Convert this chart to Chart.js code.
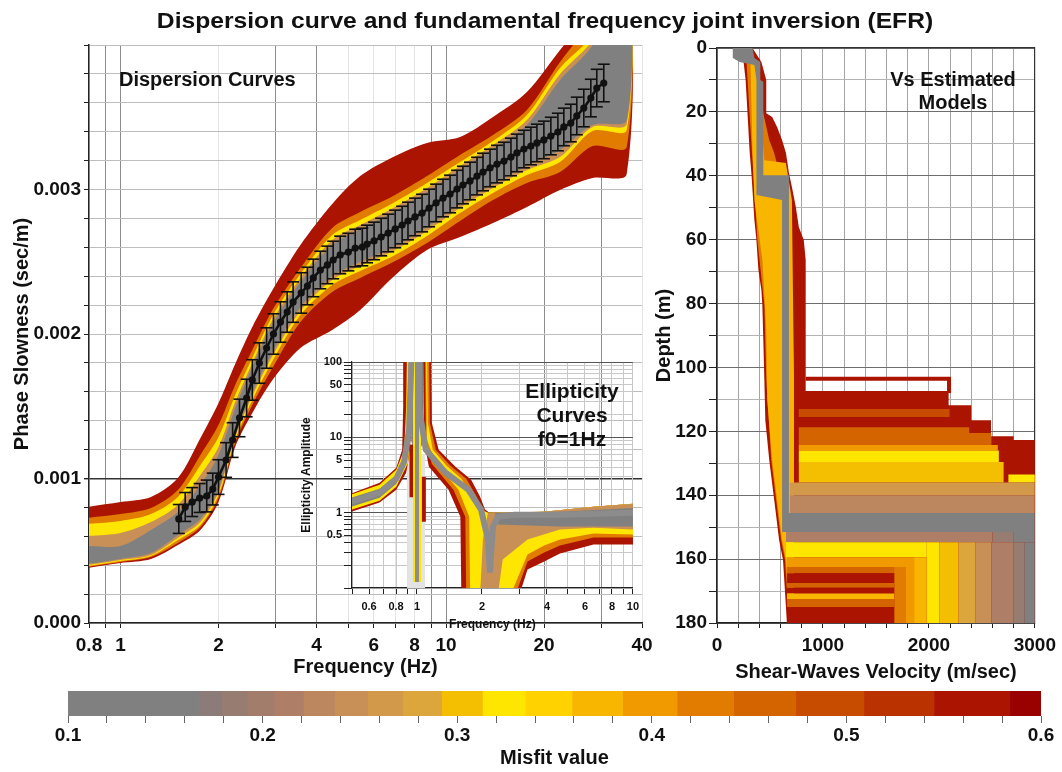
<!DOCTYPE html>
<html>
<head>
<meta charset="utf-8">
<title>Dispersion curve and fundamental frequency joint inversion (EFR)</title>
<script src="https://cdn.jsdelivr.net/npm/chart.js@4.4.1/dist/chart.umd.min.js"></script>
<style>
  html, body { margin:0; padding:0; background:#ffffff; }
  body { position:relative; width:1062px; height:772px; overflow:hidden; font-family:"Liberation Sans", Arial, Helvetica, sans-serif; }
  canvas { position:absolute; }
  .lbl { position:absolute; font-weight:bold; color:#111; white-space:nowrap; z-index:5; }
</style>
</head>
<body>
<canvas id="cMain" width="660" height="690" style="left:0px;top:0px;z-index:1"></canvas>
<canvas id="cVs" width="422" height="690" style="left:640px;top:0px;z-index:1"></canvas>
<canvas id="cEll" width="350" height="285" style="left:295px;top:350px;z-index:2"></canvas>
<canvas id="cBar" width="1022" height="92" style="left:40px;top:680px;z-index:1"></canvas>
<div class="lbl" style="left:145px;top:10px;width:800px;text-align:center;font-size:22px;line-height:22px;transform:scaleX(1.12);">Dispersion curve and fundamental frequency joint inversion (EFR)</div>
<div class="lbl" style="left:119px;top:69px;font-size:20px;line-height:20px;">Dispersion Curves</div>
<div class="lbl" style="left:853px;top:68px;width:200px;text-align:center;font-size:20px;line-height:23px;">Vs Estimated<br>Models</div>
<div class="lbl" style="left:472px;top:379px;width:200px;text-align:center;font-size:21px;line-height:24px;">Ellipticity<br>Curves<br>f0=1Hz</div>
<script>
// ================= DATA =================
// Misfit colour scale (colour bar)
const misfitEdges  = [0.100,0.167,0.179,0.192,0.206,0.221,0.237,0.254,0.272,0.292,0.313,0.335,0.359,0.385,0.413,0.442,0.474,0.509,0.545,0.584,0.600];
const misfitColors = ['#808080','#8b7c79','#977c72','#a27d6c','#ae7e66','#bc865f','#c88f56','#d3994b','#dca63c','#f4bf00','#ffe600','#ffd200','#f8b600','#f09a00','#e27c00','#d36400','#c84c00','#b93200','#aa1400','#990000'];
const misfitTicks  = [0.10,0.12,0.14,0.16,0.18,0.20,0.22,0.24,0.26,0.28,0.30,0.32,0.34,0.36,0.38,0.40,0.42,0.44,0.46,0.48,0.50,0.52,0.54,0.56,0.58,0.60];
const misfitTickLabels = ['0.1','','','','','0.2','','','','','0.3','','','','','0.4','','','','','0.5','','','','','0.6'];

// Observed dispersion curve (frequency Hz, slowness in ms/m = 1e-3 s/m)
const freqObs = [1.51,1.58,1.66,1.75,1.84,1.92,2.00,2.11,2.21,2.32,2.44,2.54,2.67,2.81,2.95,3.10,3.25,3.39,3.59,3.75,3.91,4.11,4.32,4.50,4.73,5.01,5.26,5.53,5.72,6.01,6.32,6.64,6.98,7.33,7.64,8.03,8.44,8.87,9.32,9.79,10.29,10.81,11.27,11.85,12.45,12.99,13.65,14.34,15.07,15.83,16.51,17.35,18.23,19.02,19.98,20.99,22.06,23.01,24.17,25.22,26.50,27.85,29.05,30.52];
const slowObs = [0.720,0.803,0.837,0.865,0.879,0.927,1.010,1.128,1.266,1.419,1.557,1.682,1.799,1.903,2.000,2.083,2.152,2.221,2.284,2.332,2.388,2.443,2.478,2.512,2.547,2.567,2.595,2.602,2.623,2.644,2.671,2.699,2.727,2.754,2.782,2.810,2.837,2.872,2.907,2.941,2.969,3.003,3.031,3.059,3.093,3.121,3.149,3.176,3.197,3.225,3.253,3.280,3.301,3.322,3.343,3.370,3.398,3.433,3.460,3.509,3.564,3.633,3.702,3.737];
const slowErr = [0.10,0.10,0.10,0.10,0.11,0.11,0.12,0.12,0.12,0.13,0.13,0.14,0.14,0.14,0.14,0.14,0.14,0.14,0.14,0.13,0.13,0.13,0.13,0.13,0.13,0.13,0.13,0.13,0.13,0.13,0.13,0.13,0.13,0.13,0.13,0.13,0.13,0.13,0.13,0.13,0.13,0.13,0.13,0.13,0.13,0.13,0.13,0.13,0.13,0.13,0.13,0.13,0.13,0.13,0.13,0.13,0.13,0.13,0.13,0.13,0.13,0.13,0.13,0.13];

// Envelopes of the computed dispersion curves, per misfit class (ms/m)
const dispFreq = [0.79,1.0,1.24,1.5,1.76,2.0,2.25,2.54,2.93,3.57,4.47,5.45,6.88,8.74,11.04,13.94,17.72,22.4,28.2,35.9];
const dispDRUp  = [0.803,0.837,0.872,1.003,1.280,1.522,1.792,2.048,2.304,2.616,2.900,3.093,3.225,3.322,3.363,3.502,3.675,3.965,4.242,4.519];
const dispDRLo  = [0.381,0.415,0.443,0.540,0.644,0.837,1.218,1.453,1.682,1.903,2.028,2.166,2.394,2.581,2.671,2.768,2.879,2.997,3.080,3.107];
const dispORUp  = [0.727,0.754,0.796,0.920,1.163,1.370,1.647,1.889,2.166,2.457,2.734,2.844,2.955,3.093,3.239,3.377,3.550,3.882,4.173,4.519];
const dispORLo  = [0.388,0.422,0.457,0.554,0.664,0.865,1.246,1.509,1.765,2.083,2.291,2.388,2.498,2.630,2.782,2.927,3.045,3.121,3.301,3.294];
const dispYEUp  = [0.685,0.706,0.754,0.872,1.093,1.287,1.578,1.834,2.125,2.415,2.685,2.789,2.907,3.045,3.190,3.336,3.516,3.841,4.069,4.519];
const dispYELo  = [0.394,0.429,0.464,0.574,0.678,0.886,1.266,1.543,1.813,2.131,2.339,2.436,2.540,2.678,2.837,2.976,3.100,3.190,3.405,3.412];
const dispTNUp  = [0.602,0.623,0.699,0.817,1.024,1.218,1.529,1.799,2.097,2.388,2.651,2.754,2.872,3.010,3.163,3.308,3.481,3.799,4.035,4.519];
const dispTNLo  = [0.401,0.436,0.471,0.588,0.699,0.907,1.287,1.571,1.848,2.159,2.374,2.471,2.574,2.713,2.872,3.010,3.135,3.225,3.433,3.453];
const dispGRUp  = [0.533,0.533,0.644,0.768,0.955,1.163,1.488,1.772,2.069,2.360,2.616,2.727,2.844,2.983,3.135,3.280,3.446,3.758,4.000,4.519];
const dispGRLo  = [0.408,0.443,0.484,0.609,0.720,0.927,1.308,1.592,1.875,2.187,2.401,2.498,2.602,2.740,2.900,3.038,3.163,3.273,3.446,3.481];
const dispMisfit = [0.57,0.43,0.32,0.24,0.12]; // DR, OR, YE, TN, GR

const freqTicks = [0.8,0.9,1,2,3,4,5,6,7,8,9,10,20,30,40];
const freqTickLabels = ['0.8','','1','2','','4','','6','','8','','10','20','','40'];
const freqGridStrong = [0.9,1,3,4,9,10,20,30];
const slowTicks = [0,0.0002,0.0004,0.0006,0.0008,0.001,0.0012,0.0014,0.0016,0.0018,0.002,0.0022,0.0024,0.0026,0.0028,0.003,0.0032,0.0034,0.0036,0.0038,0.004];
const slowTickLabels = ['0.000','','','','','0.001','','','','','0.002','','','','','0.003','','','','',''];

// Ellipticity curves inset (frequency Hz, amplitude)
const ellLeftDRF = [0.48,0.671,0.802,0.854,0.863,0.863,0.959,0.949,0.919,0.891,0.802,0.671,0.48];
const ellLeftDRA = [1.73,2.50,3.94,6.83,25.3,195,195,15.6,5.52,3.39,2.02,1.36,1.0];
const ellLeftYEF = [0.48,0.671,0.802,0.872,0.891,0.900,0.949,0.939,0.910,0.802,0.671,0.48];
const ellLeftYEA = [1.68,2.35,3.71,6.83,25.3,195,195,15.6,4.59,2.21,1.44,1.06];
const ellLeftGRF = [0.48,0.671,0.802,0.891,0.910,0.919,0.939,0.929,0.900,0.802,0.671,0.48];
const ellLeftGRA = [1.53,2.08,3.19,6.42,25.3,195,195,15.6,4.88,2.42,1.58,1.16];
const ellRightDRF = [1.159,1.171,1.26,1.507,1.782,1.96,2.065,2.2,3.883,6.57,10.3,10.3,6.57,4.595,3.883,3.25,2.985,1.605,1.588,1.4,1.135,1.076,1.065];
const ellRightDRA = [195,15.6,6.83,4.07,2.73,1.63,1.10,0.97,1.03,1.20,1.32,0.377,0.377,0.287,0.224,0.176,0.082,0.082,0.885,2.02,4.07,9.25,195];
const ellRightORF = [1.135,1.147,1.221,1.429,1.691,1.879,2.0,2.131,3.883,6.57,10.3,10.3,6.57,4.595,3.883,3.25,2.862,1.691,1.674,1.475,1.171,1.099,1.088];
const ellRightORA = [195,15.6,6.83,4.19,2.82,1.68,1.10,1.0,1.03,1.20,1.32,0.467,0.467,0.366,0.296,0.224,0.082,0.082,0.885,2.02,4.45,9.25,195];
const ellRightYEF = [1.111,1.123,1.183,1.371,1.605,1.801,1.96,2.131,3.883,6.57,10.3,10.3,6.57,4.595,3.883,3.25,2.716,1.763,1.745,1.555,1.221,1.111,1.099];
const ellRightYEA = [195,15.6,6.83,4.19,2.82,1.68,1.10,1.0,1.03,1.20,1.32,0.511,0.527,0.439,0.366,0.278,0.082,0.082,0.885,2.02,4.59,9.25,195];
const ellRightTNF = [2.131,3.883,6.57,10.3,10.3,6.57,4.595,3.25,2.495,2.37,1.96,2.02];
const ellRightTNA = [1.0,1.03,1.20,1.32,0.596,0.633,0.596,0.439,0.239,0.082,0.082,0.439];
const ellRightGRF = [2.295,4.595,10.3,10.3,4.595,2.37];
const ellRightGRA = [1.0,1.03,1.16,0.653,0.653,0.694];
const ellPeakF = [0.94,1.07,1.07,1.02,1.0,0.98,0.94];
const ellPeakA = [195,195,9,6,4,6,9];
const ellBestLeftF  = [0.48,0.671,0.802,0.872,0.919,0.949];
const ellBestLeftA  = [1.36,1.84,2.82,4.74,12.6,195];
const ellBestRightF = [1.011,1.021,1.099,1.357,1.727,1.98,2.131,2.177,2.248,2.37,2.833,4.595,10.3];
const ellBestRightA = [195,25.3,6.83,3.39,2.02,1.10,0.439,0.160,0.653,0.885,0.941,0.941,1.0];
const f0ShadeF = [0.90,1.09,1.09,0.90];
const f0ShadeA = [0.08,0.08,6,6];
const f0SpikeF = [1.0,1.0];
const f0SpikeA = [195,0.12];
const redSpike1F = [0.943,0.943], redSpike1A = [8,1.6];
const redSpike2F = [1.076,1.076], redSpike2A = [3,0.76];
const ellMisfit = [0.57,0.43,0.32,0.24,0.12]; // DR, OR, YE, TN, GR

const ellFreqTicks = [0.5,0.6,0.7,0.8,0.9,1,2,3,4,5,6,7,8,9,10];
const ellFreqTickLabels = ['','0.6','','0.8','','1','2','','4','','6','','8','','10'];
const ellAmpTicks = [0.1,0.2,0.3,0.4,0.5,0.6,0.7,0.8,0.9,1,2,3,4,5,6,7,8,9,10,20,30,40,50,60,70,80,90,100];
const ellAmpTickLabels = ['','','','','0.5','','','','','1','','','','5','','','','','10','','','','50','','','','','100'];

// Vs models (Vs m/s, depth m)
const drLeftDepth  = [0,2.2,3.8,4.4,10,20.4,32,39.8,53.9,60.1,69.5,75.8,80.5,91.4,104,116.5,129,141.5,154,160.3,180];
const drLeftVs     = [149,167,195,251,270,288,307,326,353,372,391,419,428,437,447,456,493,540,586,623,660];
const drRightDepth = [0,4.4,10,20.4,21.6,24.7,28.8,32.9,39.1,43.5,49.8,56,60.1,66.4,107.4,107.4,111.8,111.8,116.5,116.5,121.5,121.5,122.7,122.7,180];
const drRightVs    = [335,419,465,465,521,567,614,651,679,707,744,772,819,837,837,2186,2186,2400,2400,2586,2586,2800,2800,3000,3000];
const orLeftDepth  = [4.4,20.4,39.8,60.1,80.5,104,129,141.5,154,160.3,180];
const orLeftVs     = [279,307,344,381,447,465,512,558,605,642,679];
const orRightDepth = [4.4,20.4,28.8,32.9,43.5,56,103,180];
const orRightVs    = [381,437,493,540,620,690,726,726];
const yeLeftDepth  = [4.4,31.9,47.6,66.4,88.3,110,129,141.5,154,160.3,180];
const yeLeftVs     = [316,335,353,428,465,474,521,567,614,651,688];
const yeRightDepth = [4.4,35.1,36,47.6,103,180];
const yeRightVs    = [372,447,650,707,726,726];
const bestVs    = [149,335,353,409,409,437,437,679,679,3000,3000,614,614,372,372,353,214,149];
const bestDepth = [0,0,3.1,4.4,10,10.6,39.8,39.8,145.6,145.6,151.5,151.5,47.6,46,10,5.3,4.4,3.1];
const shallowLineVs = [837,2190,2190], shallowLineDepth = [103.5,103.5,108];
const vsMisfit = [0.57,0.43,0.37,0.12]; // DR, OR, YE, best
const rectTop    = [113,118.7,120.5,124.3,126,129.6,133.5,136,140,151.5,151.5,151.5,154.7,154.7,154.7,154.7,154.7,154.7,154.7,154.7,159.4,162.5,164.4,167.5,169,170.8,172.5,175,162.5,162.5,159.4];
const rectBottom = [115.5,120.5,124.3,126,129.6,136,136,140,145.6,154.7,154.7,154.7,159.4,180,180,180,180,180,180,180,162.5,164.4,167.5,169,170.8,172.5,175,180,180,180,180];
const rectVsMin  = [772,772,772,772,772,772,2750,688,688,651,2600,2800,651,1980,2100,2280,2440,2590,2800,2900,660,660,660,660,660,660,660,660,1674,1777,1860];
const rectVsMax  = [2195,2380,2590,2650,2660,2705,3000,3000,3000,2600,2800,3000,1980,2100,2280,2440,2590,2800,2900,3000,1860,1777,1674,1674,1674,1674,1674,1674,1777,1860,1980];
const rectMisfit = [0.49,0.45,0.47,0.40,0.32,0.30,0.32,0.26,0.23,0.22,0.19,0.15,0.32,0.32,0.30,0.28,0.25,0.21,0.18,0.12,0.40,0.45,0.57,0.45,0.57,0.36,0.47,0.57,0.43,0.40,0.36];

const vsTicks = [0,200,400,600,800,1000,1200,1400,1600,1800,2000,2200,2400,2600,2800,3000];
const vsTickLabels = ['0','','','','','1000','','','','','2000','','','','','3000'];
const depthTicks = [0,10,20,30,40,50,60,70,80,90,100,110,120,130,140,150,160,170,180];
const depthTickLabels = ['0','','20','','40','','60','','80','','100','','120','','140','','160','','180'];

// ================= HELPERS =================
const FONT = '"Liberation Sans", Arial, Helvetica, sans-serif';
const bold = (size) => ({family: FONT, size: size, weight: 'bold'});
const INK = '#111111';
function misfitColor(m) {
  for (let i = 0; i < misfitColors.length; i++) { if (m < misfitEdges[i + 1]) return misfitColors[i]; }
  return misfitColors[misfitColors.length - 1];
}
function pts(xs, ys, scale) { const k = scale || 1; return xs.map((x, i) => ({x: x, y: ys[i] * k})); }
function band(xs, up, lo, scale) {
  const k = scale || 1;
  const p = xs.map((x, i) => ({x: x, y: up[i] * k}));
  for (let i = xs.length - 1; i >= 0; i--) p.push({x: xs[i], y: lo[i] * k});
  return p;
}
function sideBand(ld, lv, rd, rv) {
  const p = ld.map((d, i) => ({x: lv[i], y: d}));
  for (let i = rd.length - 1; i >= 0; i--) p.push({x: rv[i], y: rd[i]});
  return p;
}
function shape(points, color, tension) {
  return {data: points, showLine: true, fill: 'shape', backgroundColor: color, borderColor: color,
          borderWidth: 0, pointRadius: 0, tension: tension || 0};
}
function line(points, color, width) {
  return {data: points, showLine: true, fill: false, borderColor: color, backgroundColor: color,
          borderWidth: width, pointRadius: 0, tension: 0, borderCapStyle: 'butt'};
}
function ordered(list) { const n = list.length; list.forEach((d, i) => { d.order = n - i; }); return list; }
const baseOpts = {responsive: false, animation: false, events: [],
                  plugins: {legend: {display: false}, tooltip: {enabled: false}}};
const MS = 0.001; // ms/m -> s/m

// ================= MAIN: DISPERSION CURVES =================
const mainDs = ordered([
  shape(band(dispFreq, dispDRUp, dispDRLo, MS), misfitColor(dispMisfit[0]), 0.3),
  shape(band(dispFreq, dispORUp, dispORLo, MS), misfitColor(dispMisfit[1]), 0.3),
  shape(band(dispFreq, dispYEUp, dispYELo, MS), misfitColor(dispMisfit[2]), 0.3),
  shape(band(dispFreq, dispTNUp, dispTNLo, MS), misfitColor(dispMisfit[3]), 0.3),
  shape(band(dispFreq, dispGRUp, dispGRLo, MS), misfitColor(dispMisfit[4]), 0.3),
  (function () {
    const p = [];
    freqObs.forEach((f, i) => { p.push({x: f, y: (slowObs[i] - slowErr[i]) * MS}, {x: f, y: (slowObs[i] + slowErr[i]) * MS}, {x: f, y: NaN}); });
    return line(p, INK, 1.6);
  })(),
  (function () {
    const p = [];
    freqObs.forEach((f, i) => { p.push({x: f, y: (slowObs[i] - slowErr[i]) * MS}, {x: f, y: (slowObs[i] + slowErr[i]) * MS}); });
    return {data: p, showLine: false, pointStyle: 'line', pointRadius: 6, borderWidth: 1.6, borderColor: INK, backgroundColor: INK};
  })(),
  {data: pts(freqObs, slowObs, MS), showLine: true, borderColor: INK, borderWidth: 2.6, pointRadius: 3.6,
   pointBackgroundColor: INK, pointBorderColor: INK, pointBorderWidth: 0, tension: 0}
]);

new Chart(document.getElementById('cMain'), {
  type: 'scatter',
  data: {datasets: mainDs},
  options: Object.assign({}, baseOpts, {
    layout: {padding: {left: 0, right: 18, top: 45, bottom: 0}},
    scales: {
      x: {type: 'logarithmic', min: 0.8, max: 40,
          afterBuildTicks: (s) => { s.ticks = freqTicks.map(v => ({value: v})); },
          afterFit: (s) => { s.height = 67; },
          ticks: {callback: (v, i) => freqTickLabels[i], autoSkip: false, maxRotation: 0, font: bold(19), color: INK, padding: 6},
          grid: {color: (c) => freqGridStrong.includes(freqTicks[c.index]) ? '#8c8c8c' : '#e4e4e4', lineWidth: 1, tickLength: 5, tickColor: '#222'},
          border: {display: true, color: '#222', width: 1.5},
          title: {display: true, text: 'Frequency (Hz)', font: bold(20), color: INK, padding: {top: 0, bottom: 11}}},
      y: {type: 'linear', min: 0, max: 0.004,
          afterBuildTicks: (s) => { s.ticks = slowTicks.map(v => ({value: v})); },
          afterFit: (s) => { s.width = 89; },
          ticks: {callback: (v, i) => slowTickLabels[i], autoSkip: false, font: bold(19), color: INK, padding: 3},
          grid: {color: (c) => c.index === 5 ? '#333333' : '#bdbdbd', lineWidth: (c) => c.index === 5 ? 1.4 : 1, tickLength: 5, tickColor: '#222'},
          border: {display: true, color: '#222', width: 1.5},
          title: {display: true, text: 'Phase Slowness (sec/m)', font: bold(20), color: INK, padding: {top: 10, bottom: 0}}}
    }
  })
});

// ================= INSET: ELLIPTICITY =================
const ellDs = ordered([
  shape(pts(f0ShadeF, f0ShadeA), '#e3e3e3'),
  shape(pts(ellLeftDRF, ellLeftDRA), misfitColor(ellMisfit[0])),
  shape(pts(ellLeftYEF, ellLeftYEA), misfitColor(ellMisfit[2])),
  shape(pts(ellLeftGRF, ellLeftGRA), misfitColor(ellMisfit[4])),
  shape(pts(ellRightDRF, ellRightDRA), misfitColor(ellMisfit[0])),
  shape(pts(ellRightORF, ellRightORA), misfitColor(ellMisfit[1])),
  shape(pts(ellRightYEF, ellRightYEA), misfitColor(ellMisfit[2])),
  shape(pts(ellRightTNF, ellRightTNA), misfitColor(ellMisfit[3])),
  shape(pts(ellRightGRF, ellRightGRA), misfitColor(ellMisfit[4])),
  shape(pts(ellPeakF, ellPeakA), misfitColor(ellMisfit[4])),
  line(pts(redSpike1F, redSpike1A), misfitColor(0.55), 4),
  line(pts(redSpike2F, redSpike2A), misfitColor(0.55), 4),
  line(pts(f0SpikeF, f0SpikeA), misfitColor(0.33), 8),
  line(pts(f0SpikeF, f0SpikeA), '#8c8c8c', 4),
  line(pts(ellBestLeftF, ellBestLeftA), '#8c8c8c', 6),
  line(pts(ellBestRightF, ellBestRightA), '#8c8c8c', 6)
]);

new Chart(document.getElementById('cEll'), {
  type: 'scatter',
  data: {datasets: ellDs},
  options: Object.assign({}, baseOpts, {
    layout: {padding: {left: 0, right: 8, top: 12, bottom: 0}},
    scales: {
      x: {type: 'logarithmic', min: 0.5, max: 10,
          afterBuildTicks: (s) => { s.ticks = ellFreqTicks.map(v => ({value: v})); },
          afterFit: (s) => { s.height = 47; },
          ticks: {callback: (v, i) => ellFreqTickLabels[i], autoSkip: false, maxRotation: 0, font: bold(11), color: INK, padding: 6},
          grid: {color: (c) => ellFreqTicks[c.index] === 1 ? '#333333' : '#c8c8c8', tickLength: 6, tickColor: '#222'},
          border: {display: true, color: '#222', width: 1.2},
          title: {display: true, text: 'Frequency (Hz)', font: bold(12), color: INK, padding: {top: 0, bottom: 3}}},
      y: {type: 'logarithmic', min: 0.1, max: 100,
          afterBuildTicks: (s) => { s.ticks = ellAmpTicks.map(v => ({value: v})); },
          afterFit: (s) => { s.width = 57; },
          ticks: {callback: (v, i) => ellAmpTickLabels[i], autoSkip: false, font: bold(11), color: INK, padding: 2},
          grid: {color: (c) => [1, 10, 100].includes(ellAmpTicks[c.index]) ? '#555555' : '#c8c8c8', tickLength: 8, tickColor: '#222'},
          border: {display: true, color: '#222', width: 1.2},
          title: {display: true, text: 'Ellipticity Amplitude', font: bold(12), color: INK, padding: {top: 4, bottom: 0}}}
    }
  })
});

// ================= RIGHT: VS MODELS =================
const vsDs = [
  shape(sideBand(drLeftDepth, drLeftVs, drRightDepth, drRightVs), misfitColor(vsMisfit[0])),
  shape(sideBand(orLeftDepth, orLeftVs, orRightDepth, orRightVs), misfitColor(vsMisfit[1])),
  shape(sideBand(yeLeftDepth, yeLeftVs, yeRightDepth, yeRightVs), misfitColor(vsMisfit[2]))
];
rectTop.forEach((t, i) => {
  const b = rectBottom[i], a = rectVsMin[i], z = rectVsMax[i];
  vsDs.push(shape([{x: a, y: t}, {x: z, y: t}, {x: z, y: b}, {x: a, y: b}], misfitColor(rectMisfit[i])));
});
vsDs.push(shape(pts(bestVs, bestDepth), misfitColor(vsMisfit[3])));
vsDs.push(line(pts(shallowLineVs, shallowLineDepth), misfitColor(vsMisfit[0]), 4));
vsDs.forEach(d => { d.xAxisID = 'x'; d.yAxisID = 'y'; });
ordered(vsDs);

new Chart(document.getElementById('cVs'), {
  type: 'scatter',
  data: {datasets: vsDs},
  options: Object.assign({}, baseOpts, {
    layout: {padding: {left: 0, right: 23, top: 48, bottom: 0}},
    scales: {
      x: {type: 'linear', position: 'bottom', min: 0, max: 3000,
          afterBuildTicks: (s) => { s.ticks = vsTicks.map(v => ({value: v})); },
          afterFit: (s) => { s.height = 67; },
          ticks: {callback: (v, i) => vsTickLabels[i], autoSkip: false, maxRotation: 0, font: bold(19), color: INK, padding: 6},
          grid: {color: '#a4a4a4', tickLength: 5, tickColor: '#222'},
          border: {display: true, color: '#222', width: 1.5},
          title: {display: true, text: 'Shear-Waves Velocity (m/sec)', font: bold(20), color: INK, padding: {top: 0, bottom: 6}}},
      y: {type: 'linear', position: 'left', reverse: true, min: 0, max: 180,
          afterBuildTicks: (s) => { s.ticks = depthTicks.map(v => ({value: v})); },
          afterFit: (s) => { s.width = 77; },
          ticks: {callback: (v, i) => depthTickLabels[i], autoSkip: false, font: bold(19), color: INK, padding: 2},
          grid: {color: (c) => depthTicks[c.index] % 20 === 0 ? '#6e6e6e' : '#b3b3b3', tickLength: 8, tickColor: '#222'},
          border: {display: true, color: '#222', width: 1.5},
          title: {display: true, text: 'Depth (m)', font: bold(20), color: INK, padding: {top: 12, bottom: 0}}},
      xTop: {type: 'linear', axis: 'x', position: 'top', min: 0, max: 1,
             afterFit: (s) => { s.height = 0; },
             ticks: {display: false}, grid: {display: false, drawTicks: false},
             border: {display: true, color: '#333', width: 1.2}},
      yRight: {type: 'linear', axis: 'y', position: 'right', min: 0, max: 1,
               afterFit: (s) => { s.width = 0; },
               ticks: {display: false}, grid: {display: false, drawTicks: false},
               border: {display: true, color: '#333', width: 1.2}}
    }
  })
});

// ================= COLOUR BAR =================
const barDs = misfitColors.map((c, i) => ({data: [[misfitEdges[i], misfitEdges[i + 1]]], backgroundColor: c,
  borderWidth: 0, grouped: false, barPercentage: 1, categoryPercentage: 1}));
barDs.push({data: [[misfitEdges[0], misfitEdges[misfitEdges.length - 1]]], backgroundColor: 'rgba(0,0,0,0)',
  borderColor: '#9c9c9c', borderWidth: 1, borderSkipped: false, grouped: false, barPercentage: 1, categoryPercentage: 1});

new Chart(document.getElementById('cBar'), {
  type: 'bar',
  data: {labels: ['misfit'], datasets: barDs},
  options: Object.assign({}, baseOpts, {
    indexAxis: 'y',
    layout: {padding: {left: 28, right: 21, top: 11, bottom: 0}},
    scales: {
      y: {display: false},
      x: {type: 'linear', min: 0.1, max: 0.6,
          afterBuildTicks: (s) => { s.ticks = misfitTicks.map(v => ({value: v})); },
          afterFit: (s) => { s.height = 56; },
          ticks: {callback: (v, i) => misfitTickLabels[i], autoSkip: false, maxRotation: 0, font: bold(19), color: INK, padding: 1},
          grid: {drawOnChartArea: false, tickLength: 7, tickColor: '#666'},
          border: {display: false},
          title: {display: true, text: 'Misfit value', font: bold(20), color: INK, padding: {top: 0, bottom: 2}}}
    }
  })
});
</script>
</body>
</html>
